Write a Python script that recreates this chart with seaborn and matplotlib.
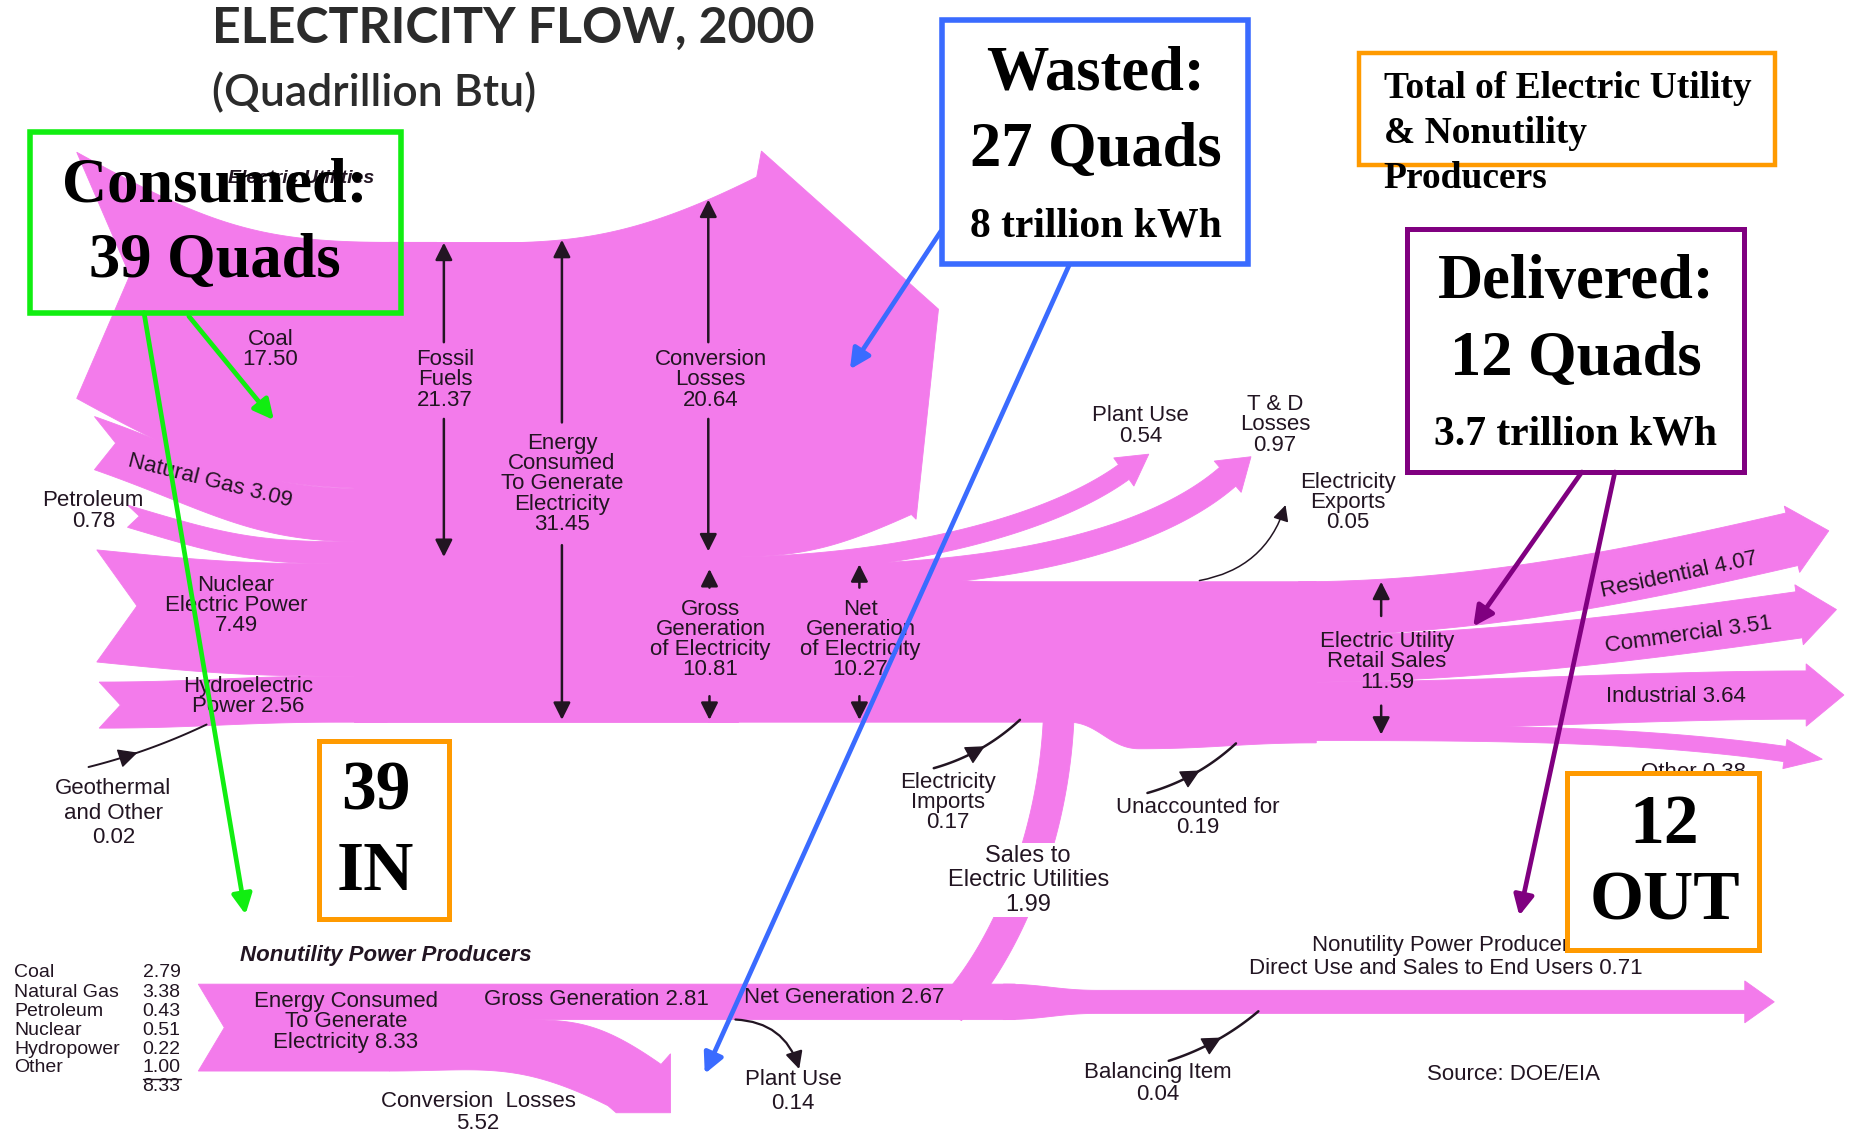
import numpy as np
import matplotlib
matplotlib.use("Agg")
import matplotlib.pyplot as plt
from matplotlib.patches import Polygon, Rectangle
import seaborn as sns

# ---------------- data (quadrillion Btu, year 2000) ----------------
eu_sources = ["Coal", "Natural Gas", "Petroleum", "Nuclear Electric Power", "Hydroelectric Power"]
eu_source_vals = [17.50, 3.09, 0.78, 7.49, 2.56]
geothermal_val = 0.02
fossil_fuels = 21.37
eu_consumed = 31.45
eu_conversion_losses = 20.64
eu_gross_gen = 10.81
eu_plant_use = 0.54
eu_net_gen = 10.27
td_losses = 0.97
exports = 0.05
imports = 0.17
unaccounted = 0.19
retail_sales = 11.59
end_uses = ["Residential", "Commercial", "Industrial", "Other"]
end_use_vals = [4.07, 3.51, 3.64, 0.38]

nu_sources = ["Coal", "Natural Gas", "Petroleum", "Nuclear", "Hydropower", "Other"]
nu_source_vals = [2.79, 3.38, 0.43, 0.51, 0.22, 1.00]
nu_consumed = 8.33
nu_gross_gen = 2.81
nu_conversion_losses = 5.52
nu_plant_use = 0.14
nu_net_gen = 2.67
nu_sales_to_utilities = 1.99
nu_direct_use = 0.71
balancing_item = 0.04

# ---------------- style ----------------
sns.set_theme(style="white")
plt.rcParams["font.family"] = ["Liberation Sans", "DejaVu Sans"]
PINK = "#F37BEB"
INK = "#221522"
SERIF = ["Liberation Serif", "DejaVu Serif"]
LAB = 16


def uw(v):   # band width on the canvas, electric utilities
    return 11.35 * v + 10


def nw(v):   # band width on the canvas, nonutility producers
    return 5.0 * v + 16


def cubic(p0, p1, p2, p3, n=60):
    t = np.linspace(0, 1, n)[:, None]
    p0, p1, p2, p3 = (np.asarray(p, float) for p in (p0, p1, p2, p3))
    return (1 - t) ** 3 * p0 + 3 * (1 - t) ** 2 * t * p1 + 3 * (1 - t) * t ** 2 * p2 + t ** 3 * p3


def hcurve(x0, y0, x1, y1, s0=0.0, s1=0.0, k=0.42, n=60):
    dx = x1 - x0
    return cubic((x0, y0), (x0 + k * dx, y0 + s0 * k * dx),
                 (x1 - k * dx, y1 - s1 * k * dx), (x1, y1), n)


def fill(pts, color=PINK, z=1):
    ax.add_patch(Polygon(np.asarray(pts), closed=True, fc=color, ec=color, lw=0.6, zorder=z))


def thick(ctrl, w, head=0, barb=0):
    c = cubic(*ctrl, n=90)
    d = np.gradient(c, axis=0)
    d /= np.linalg.norm(d, axis=1)[:, None]
    nrm = np.column_stack([-d[:, 1], d[:, 0]])
    a, b = c + nrm * w / 2, c - nrm * w / 2
    pts = [a]
    if head:
        e, t, q = c[-1], d[-1], nrm[-1]
        pts.append(np.array([e + q * (w / 2 + barb), e + t * head, e - q * (w / 2 + barb)]))
    pts.append(b[::-1])
    fill(np.vstack(pts))


def label(x, y, s, size=LAB, ls=0.95, **kw):
    kw.setdefault("color", INK)
    ax.text(x, y, s, fontsize=size, ha=kw.pop("ha", "center"), va=kw.pop("va", "center"),
            linespacing=ls, zorder=kw.pop("zorder", 4), **kw)


HEAD = dict(arrowstyle="-|>", color=INK, lw=1.8, mutation_scale=26, shrinkA=0, shrinkB=0)


def vmeasure(x, y0, y1, g0, g1):
    ax.annotate("", xy=(x, y0), xytext=(x, g0), arrowprops=HEAD, zorder=3)
    ax.annotate("", xy=(x, y1), xytext=(x, g1), arrowprops=HEAD, zorder=3)


def mid_arrow(p0, p1, bend=0.0, frac=0.45, lw=1.8):
    p0, p1 = np.asarray(p0, float), np.asarray(p1, float)
    d = p1 - p0
    c = (p0 + p1) / 2 + np.array([-d[1], d[0]]) * bend
    t = np.linspace(0, 1, 60)[:, None]
    pts = (1 - t) ** 2 * p0 + 2 * (1 - t) * t * c + t ** 2 * p1
    ax.plot(pts[:, 0], pts[:, 1], color=INK, lw=lw, zorder=3, solid_capstyle="round")
    i = int(frac * 59)
    ax.annotate("", xy=pts[i + 4], xytext=pts[i - 4],
                arrowprops=dict(HEAD, lw=1.0, mutation_scale=30), zorder=3)


fig = plt.figure(figsize=(18.51, 11.34), dpi=100)
ax = fig.add_axes([0, 0, 1, 1])
ax.set_xlim(0, 1568)
ax.set_ylim(961, 0)
ax.axis("off")
sns.despine(ax=ax, left=True, bottom=True)

# ---------------- electric utilities ----------------
TRUNK_BOT = 612
widths = [uw(v) for v in eu_source_vals]
trunk_top = TRUNK_BOT - sum(widths)
left_x = [65, 80, 108, 82, 84]
left_top = [129, 353, 428, 466, 578]
notch = [45, 18, 10, 34, 18]
join_x = [330, 306, 290, 292, 288]
slope = [0.55, 0.35, 0.3, 0.1, 0.0]
y = trunk_top
for w, lx, lt, nd, jx, s0 in zip(widths, left_x, left_top, notch, join_x, slope):
    top = hcurve(lx, lt, jx, y, s0=s0)
    bot = hcurve(lx, lt + w, jx, y + w, s0=s0)
    fill(np.vstack([top, [[jx + 40, y], [jx + 40, y + w]], bot[::-1], [[lx + nd, lt + w / 2]]]))
    y += w

fill([(300, trunk_top), (625, trunk_top), (625, TRUNK_BOT), (300, TRUNK_BOT)])

# conversion losses: big arrow turning up and right
conv_bot = trunk_top + (TRUNK_BOT - trunk_top) * eu_conversion_losses / eu_consumed
ctop = hcurve(330, trunk_top, 641, 150, s1=-0.5)
cbot = hcurve(604, conv_bot, 772, 436, s1=-0.45)
fill(np.vstack([ctop, [(645, 128), (795, 262), (776, 440)], cbot[::-1],
                [(330, conv_bot)]]))

# net generation -> retail sales trunk
RET_TOP = 493
ret_bot = RET_TOP + uw(retail_sales)
ntop = hcurve(604, conv_bot, 850, RET_TOP)
nbot = hcurve(905, TRUNK_BOT, 965, ret_bot)
rbot = hcurve(965, ret_bot, 1115, ret_bot - 5)
fill(np.vstack([[(600, conv_bot)], ntop, [(1115, RET_TOP)], rbot[::-1],
                nbot[::-1], [(600, TRUNK_BOT)]]))

# plant use and T&D losses peel off the top
thick([(604, 480), (760, 480), (890, 445), (952, 400)], uw(eu_plant_use) * 0.95, head=26, barb=7)
thick([(680, 489), (870, 489), (985, 452), (1040, 404)], uw(td_losses), head=26, barb=7)

# end uses fan out
shares = np.array(end_use_vals) / sum(end_use_vals) * (ret_bot - RET_TOP) * 0.92
end_xy = [(1518, 457), (1524, 521), (1530, 589), (1512, 639)]
end_ang = [13, 8, 0, -8]
y = RET_TOP
for sh, (ex, ey), ang in zip(shares, end_xy, end_ang):
    w = max(sh, 13)
    c0 = (1100, y + sh / 2)
    dvec = np.array([np.cos(np.radians(ang)), -np.sin(np.radians(ang))])
    thick([c0, (c0[0] + 150, c0[1]), np.array((ex, ey)) - 130 * dvec, (ex, ey)], w, head=32, barb=6)
    y += sh

# ---------------- nonutility producers ----------------
NU_TOP = 834
g_w, c_w = nw(nu_gross_gen), nw(nu_conversion_losses)
nu_bot = NU_TOP + g_w + c_w
fill([(168, NU_TOP), (860, NU_TOP), (860, NU_TOP + g_w), (330, NU_TOP + g_w),
      (330, nu_bot), (168, nu_bot), (190, (NU_TOP + nu_bot) / 2)])
ltop = hcurve(430, NU_TOP + g_w, 560, 902, s1=0.7)
lbot = hcurve(330, nu_bot, 515, 937, s1=0.5)
fill(np.vstack([[(330, NU_TOP + g_w)], ltop, [(568, 893), (568, 943), (522, 943)],
                lbot[::-1]]))
d_w = nw(nu_direct_use)
d_c = NU_TOP + g_w / 2
dtop = hcurve(850, NU_TOP, 930, d_c - d_w / 2)
dbot = hcurve(850, NU_TOP + g_w, 930, d_c + d_w / 2)
fill(np.vstack([dtop, [(1478, d_c - d_w / 2), (1478, d_c - d_w / 2 - 8), (1503, d_c),
                       (1478, d_c + d_w / 2 + 8), (1478, d_c + d_w / 2)], dbot[::-1]]))
# sales to electric utilities rising into the retail trunk
thick([(805, 856), (845, 815), (893, 720), (897, 604)], nw(nu_sales_to_utilities))

# ---------------- black measuring arrows ----------------
def edge_at(curve, x):
    return np.interp(x, curve[:, 0], curve[:, 1])


vmeasure(376, edge_at(ctop, 376), 472, 290, 355)
vmeasure(476, edge_at(ctop, 476), TRUNK_BOT - 2, 358, 462)
vmeasure(600, edge_at(ctop, 600), conv_bot - 5, 290, 355)
vmeasure(601, conv_bot + 10, TRUNK_BOT - 2, 498, 590)
vmeasure(728, conv_bot + 6, TRUNK_BOT - 2, 498, 590)
vmeasure(1170, RET_TOP, ret_bot - 12, 522, 598)

mid_arrow((75, 650), (175, 614), bend=0.05, frac=0.35, lw=1.4)
mid_arrow((791, 651), (864, 610), bend=0.12, frac=0.5)
mid_arrow((972, 672), (1047, 630), bend=0.12, frac=0.5)
mid_arrow((990, 899), (1066, 857), bend=0.1, frac=0.5)
ax.annotate("", xy=(1089, 428), xytext=(1016, 492),
            arrowprops=dict(HEAD, lw=1.1, mutation_scale=24, connectionstyle="arc3,rad=0.3"), zorder=3)
ax.annotate("", xy=(677, 906), xytext=(623, 864),
            arrowprops=dict(HEAD, lw=1.6, mutation_scale=26, connectionstyle="arc3,rad=-0.35"), zorder=3)

# ---------------- labels ----------------
ax.text(180, 24, "ELECTRICITY FLOW, 2000", fontsize=36, fontweight="bold", color="#2b2b2b",
        family=["Lato", "DejaVu Sans"], va="center")
ax.text(180, 79, "(Quadrillion Btu)", fontsize=32, fontweight="semibold", color="#2b2b2b",
        family=["Lato", "DejaVu Sans"], va="center")

label(255, 151, "Electric Utilities", size=14, style="italic", fontweight="bold", zorder=2)
label(229, 296, f"Coal\n{eu_source_vals[0]:.2f}")
label(178, 408, f"Natural Gas {eu_source_vals[1]:.2f}", rotation=-14)
label(79, 433, f"Petroleum\n{eu_source_vals[2]:.2f}")
label(200, 513, f"Nuclear\nElectric Power\n{eu_source_vals[3]:.2f}")
label(210, 590, f"Hydroelectric\nPower {eu_source_vals[4]:.2f}")
label(96, 689, f"Geothermal\nand Other\n{geothermal_val:.2f}", ls=1.2)
label(377, 322, f"Fossil\nFuels\n{fossil_fuels:.2f}")
label(476, 410, f"Energy\nConsumed\nTo Generate\nElectricity\n{eu_consumed:.2f}")
label(602, 322, f"Conversion\nLosses\n{eu_conversion_losses:.2f}")
label(602, 542, f"Gross\nGeneration\nof Electricity\n{eu_gross_gen:.2f}")
label(729, 542, f"Net\nGeneration\nof Electricity\n{eu_net_gen:.2f}")
label(966, 361, f"Plant Use\n{eu_plant_use:.2f}")
label(1080, 360, f"T & D\nLosses\n{td_losses:.2f}")
label(1142, 426, f"Electricity\nExports\n{exports:.2f}")
label(1175, 561, f"Electric Utility\nRetail Sales\n{retail_sales:.2f}")
label(1422, 487, f"{end_uses[0]} {end_use_vals[0]:.2f}", rotation=12)
label(1430, 538, f"{end_uses[1]} {end_use_vals[1]:.2f}", rotation=8)
label(1420, 590, f"{end_uses[2]} {end_use_vals[2]:.2f}")
label(1435, 655, f"{end_uses[3]} {end_use_vals[3]:.2f}")
label(803, 680, f"Electricity\nImports\n{imports:.2f}")
label(1015, 693, f"Unaccounted for\n{unaccounted:.2f}")
label(871, 746, f"Sales to\nElectric Utilities\n{nu_sales_to_utilities:.2f}", size=17, ls=1.15,
      bbox=dict(fc="white", ec="none", pad=1))

label(327, 810, "Nonutility Power Producers", style="italic", fontweight="bold")
rows_y = [824, 841, 857, 873, 889, 905]
for name, v, ry in zip(nu_sources, nu_source_vals, rows_y):
    label(12, ry, name, size=14, ha="left")
    label(153, ry, f"{v:.2f}", size=14, ha="right")
ax.plot([121, 153], [914, 914], color=INK, lw=1.0, zorder=3)
label(153, 921, f"{nu_consumed:.2f}", size=14, ha="right")
label(293, 866, f"Energy Consumed\nTo Generate\nElectricity {nu_consumed:.2f}", ls=0.97)
label(505, 847, f"Gross Generation {nu_gross_gen:.2f}")
label(715, 845, f"Net Generation {nu_net_gen:.2f}")
label(405, 943, f"Conversion  Losses\n{nu_conversion_losses:.2f}", ls=1.05)
label(672, 925, f"Plant Use\n{nu_plant_use:.2f}", ls=1.15)
label(1225, 811, f"Nonutility Power Producers\nDirect Use and Sales to End Users {nu_direct_use:.2f}",
      ls=1.12)
label(981, 918, f"Balancing Item\n{balancing_item:.2f}", ls=1.05)
label(1282, 911, "Source: DOE/EIA")

# ---------------- callout boxes ----------------
def box(x0, y0, x1, y1, color, lw=3.6, face="none"):
    ax.add_patch(Rectangle((x0, y0), x1 - x0, y1 - y0, fc=face, ec=color, lw=lw, zorder=5))


def big(x, y, s, size, **kw):
    ax.text(x, y, s, fontsize=size, fontweight="bold", family=SERIF, color="black",
            ha=kw.pop("ha", "center"), va="center", zorder=6, **kw)


GREEN, BLUE, ORANGE, PURPLE = "#11EE11", "#3A6BFF", "#FF9A00", "#800080"
box(25, 112, 340, 265, GREEN, lw=4)
big(182, 158, "Consumed:", 45)
big(182, 222, "39 Quads", 45)

box(798, 17, 1057, 224, BLUE, lw=4, face="white")
big(928, 63, "Wasted:", 45)
big(928, 128, "27 Quads", 45)
big(928, 192, "8 trillion kWh", 30)

box(1151, 45, 1504, 140, ORANGE, lw=3.2)
for ty, s in zip([75, 113, 151], ["Total of Electric Utility", "& Nonutility", "Producers"]):
    big(1172, ty, s, 27, ha="left")

box(1192, 194, 1477, 400, PURPLE, lw=3.6, face="white")
big(1335, 240, "Delivered:", 45)
big(1335, 305, "12 Quads", 45)
big(1335, 368, "3.7 trillion kWh", 30)

box(270, 628, 380, 779, ORANGE, lw=3.6, face="white")
big(318, 672, "39", 50)
big(318, 740, "IN", 50)

box(1327, 655, 1490, 805, ORANGE, lw=3.6, face="white")
big(1410, 700, "12", 50)
big(1410, 765, "OUT", 50)

for color, p0, p1 in [(GREEN, (122, 265), (208, 775)), (GREEN, (160, 268), (232, 356)),
                      (BLUE, (797, 196), (720, 313)), (BLUE, (906, 224), (597, 910)),
                      (PURPLE, (1340, 400), (1248, 531)), (PURPLE, (1368, 400), (1287, 776))]:
    ax.annotate("", xy=p1, xytext=p0, zorder=7,
                arrowprops=dict(arrowstyle="-|>", color=color, lw=3.4, mutation_scale=30,
                                shrinkA=0, shrinkB=0))

fig.savefig("out.png", dpi=100, facecolor="white")
